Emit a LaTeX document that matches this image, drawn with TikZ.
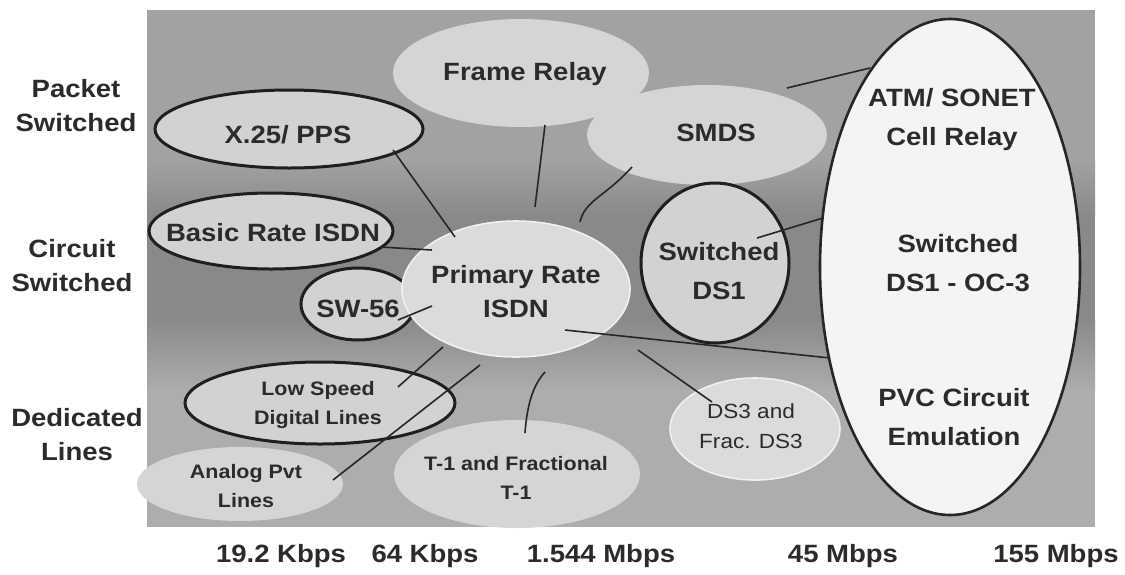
\documentclass[tikz,border=0pt]{standalone}
\usepackage{fontspec}
\setmainfont{Liberation Sans}[FakeStretch=1.1]
\usetikzlibrary{shapes.geometric,calc}

\definecolor{ink}{HTML}{2B2B2B}
\definecolor{ovalfill}{HTML}{D2D2D2}
\definecolor{softfill}{HTML}{D5D5D5}
\definecolor{linecol}{HTML}{262626}
\definecolor{bandA}{HTML}{A2A2A2}
\definecolor{bandB}{HTML}{898989}
\definecolor{bandC}{HTML}{ADADAD}
\definecolor{atmfill}{HTML}{F4F4F4}
\definecolor{rimcol}{HTML}{F0F0F0}

\tikzset{
  oval/.style 2 args={ellipse, minimum width=#1, minimum height=#2, inner sep=0pt},
  softoval/.style={fill=softfill, draw=none},
  ringoval/.style={fill=ovalfill, draw=black!88, line width=3pt},
  paleoval/.style={fill=ovalfill!80!white, draw=rimcol, line width=1.6pt},
  atmoval/.style={fill=atmfill, draw=black!85, line width=2.6pt},
  bigtxt/.style={font=\fontsize{25}{34}\selectfont\bfseries, text=ink, align=center, inner sep=0pt},
  widetxt/.style={font=\fontsize{25}{39}\selectfont\bfseries, text=ink, align=center, inner sep=0pt},
  smalltxt/.style={font=\fontsize{19.5}{29}\selectfont\bfseries, text=ink, align=center, inner sep=0pt},
  thintxt/.style={font=\fontsize{20.5}{30}\selectfont, text=ink, align=center, inner sep=0pt},
  conn/.style={draw=linecol, line width=1.6pt}
}

\begin{document}
\begin{tikzpicture}[x=1pt,y=-1pt]
\useasboundingbox (0,0) rectangle (1125,574);
\fill[white] (0,0) rectangle (1125,574);

% shaded panel in three horizontal bands
\fill[bandA] (147,10) rectangle (1095,161);
\shade[top color=bandA, bottom color=bandB] (147,160) rectangle (1095,216);
\fill[bandB] (147,215) rectangle (1095,321);
\shade[top color=bandB, bottom color=bandC] (147,320) rectangle (1095,391);
\fill[bandC] (147,390) rectangle (1095,527);

% soft service areas
\node[oval={256pt}{108pt}, softoval] (fr)   at (521,73)  {};
\node[oval={240pt}{100pt}, softoval] (smds) at (707,135) {};
\node[oval={206pt}{74pt},  softoval] (apl)  at (240,484) {};
\node[oval={246pt}{108pt}, softoval] (t1)   at (517,474) {};

% outlined services
\node[oval={268pt}{78pt},  ringoval] (x25)  at (289,129) {};
\node[oval={244pt}{76pt},  ringoval] (bri)  at (271,231) {};
\node[oval={114pt}{72pt},  ringoval] (sw56) at (358,304) {};
\node[oval={270pt}{82pt},  ringoval] (lsd)  at (320,403) {};
\node[oval={228pt}{136pt}, paleoval] (pri)  at (516,289) {};
\node[oval={148pt}{160pt}, ringoval] (ds1)  at (715,263) {};
\node[oval={170pt}{102pt}, paleoval] (ds3)  at (755,429) {};
\node[oval={260pt}{496pt}, atmoval]  (atm)  at (950,267) {};

% connectors
\draw[conn] ($(x25)+(104,21)$) -- ($(pri)+(-61,-52)$);
\draw[conn] ($(fr)+(24,52)$) -- ($(pri)+(19,-82)$);
\draw[conn] ($(smds)+(-75,32)$) .. controls ($(smds)+(-102,62)$) and ($(pri)+(69,-89)$) .. ($(pri)+(64,-67)$);
\draw[conn] ($(bri)+(109,16)$) -- ($(pri)+(-84,-39)$);
\draw[conn] ($(sw56)+(40,16)$) -- ($(pri)+(-84,17)$);
\draw[conn] ($(lsd)+(78,-16)$) -- ($(pri)+(-73,58)$);
\draw[conn] ($(apl)+(93,-4)$) -- ($(pri)+(-36,76)$);
\draw[conn] ($(t1)+(8,-41)$) .. controls ($(t1)+(10,-69)$) and ($(t1)+(16,-89)$) .. ($(pri)+(29,83)$);
\draw[conn] ($(pri)+(122,61)$) -- ($(ds3)+(-43,-27)$);
\draw[conn] ($(pri)+(49,41)$) -- ($(atm)+(-120,91)$);
\draw[conn] ($(ds1)+(42,-25)$) -- ($(atm)+(-127,-49)$);
\draw[conn] ($(smds)+(80,-47)$) -- ($(atm)+(-80,-199)$);

% service names
\node[bigtxt] (frT)   at (525,74)  {Frame Relay};
\node[bigtxt] (smdsT) at (716,133) {SMDS};
\node[bigtxt] (x25T)  at (288,135) {X.25/ PPS};
\node[bigtxt] (briT)  at (273,233) {Basic Rate ISDN};
\node[bigtxt] (sw56T) at (358,309) {SW-56};
\node[bigtxt] (priT)  at (516,292) {Primary Rate\\ISDN};
\node[widetxt] (ds1T) at (719,271) {Switched\\DS1};
\node[smalltxt] (lsdT) at (318,405) {Low Speed\\Digital Lines};
\node[smalltxt] (aplT) at (246,486) {Analog Pvt\\Lines};
\node[smalltxt] (t1T)  at (516,478) {T-1 and Fractional\\T-1};
\node[thintxt]  (ds3T) at (751,426) {DS3 and\\Frac. DS3};
\node[widetxt] (atmT1) at (952,120) {ATM/ SONET\\Cell Relay};
\node[widetxt] (atmT2) at (958,263) {Switched\\DS1 - OC-3};
\node[widetxt] (atmT3) at (954,417) {PVC Circuit\\Emulation};

% row labels
\node[bigtxt] (rowP) at (76,106) {Packet\\Switched};
\node[bigtxt] (rowC) at (72,266) {Circuit\\Switched};
\node[bigtxt] (rowD) at (77,435) {Dedicated\\Lines};

% speed scale
\node[bigtxt] (s1) at (281,556) {19.2 Kbps};
\node[bigtxt] (s2) at (425,556) {64 Kbps};
\node[bigtxt] (s3) at (601,556) {1.544 Mbps};
\node[bigtxt] (s4) at (843,556) {45 Mbps};
\node[bigtxt] (s5) at (1056,556) {155 Mbps};
\end{tikzpicture}
\end{document}
